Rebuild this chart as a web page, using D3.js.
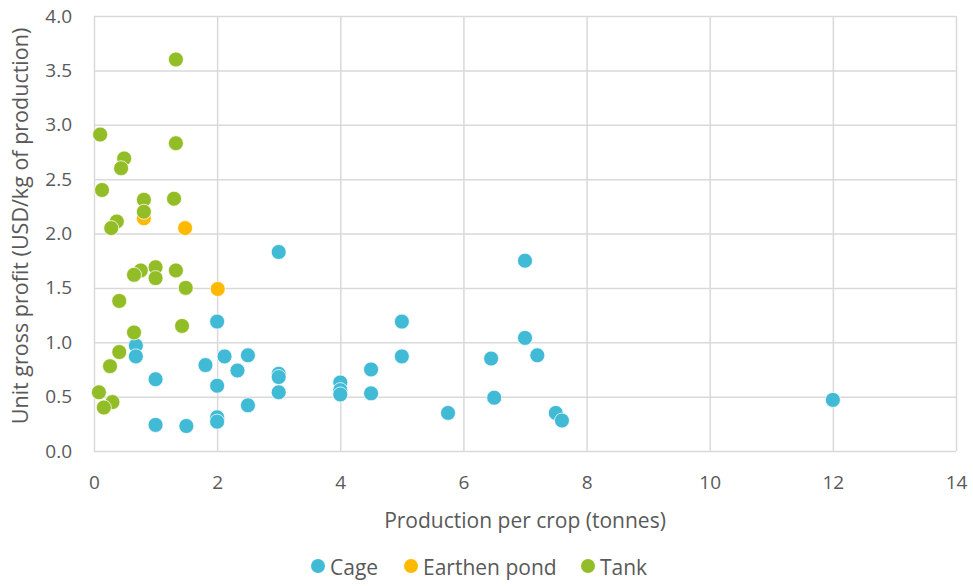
<!DOCTYPE html>
<html>
<head>
<meta charset="utf-8">
<script src="https://cdn.jsdelivr.net/npm/d3@7"></script>
<style>
  html, body { margin: 0; padding: 0; background: #fff; }
  svg text { font-family: "Open Sans", Lato, sans-serif; fill: #595959; }
</style>
</head>
<body>
<svg id="chart" width="973" height="586"></svg>
<script>
// Production per crop (tonnes) and unit gross profit (USD/kg) by system
const cageX = [0.68, 0.68, 1.0, 1.0, 1.5, 1.81, 2.0, 2.12, 2.33, 2.0, 2.0, 2.0, 2.5, 2.5, 3.0, 3.0, 3.0, 3.0, 4.0, 4.0, 4.0, 4.5, 4.5, 5.0, 5.0, 5.75, 6.45, 6.5, 7.0, 7.0, 7.2, 7.5, 7.6, 12.0];
const cageY = [0.97, 0.87, 0.66, 0.24, 0.23, 0.79, 1.19, 0.87, 0.74, 0.60, 0.31, 0.27, 0.88, 0.42, 1.83, 0.71, 0.68, 0.54, 0.63, 0.56, 0.52, 0.75, 0.53, 1.19, 0.87, 0.35, 0.85, 0.49, 1.75, 1.04, 0.88, 0.35, 0.28, 0.47];

const pondX = [0.81, 1.48, 2.01];
const pondY = [2.14, 2.05, 1.49];

const tankX = [1.33, 0.10, 1.33, 0.49, 0.44, 0.13, 1.30, 0.81, 0.81, 0.37, 0.28, 1.0, 0.76, 0.65, 1.33, 1.0, 1.49, 0.41, 1.43, 0.65, 0.41, 0.26, 0.08, 0.30, 0.16];
const tankY = [3.60, 2.91, 2.83, 2.69, 2.60, 2.40, 2.32, 2.31, 2.20, 2.11, 2.05, 1.69, 1.66, 1.62, 1.66, 1.59, 1.50, 1.38, 1.15, 1.09, 0.91, 0.78, 0.54, 0.45, 0.40];

const xTicks = [0, 2, 4, 6, 8, 10, 12, 14];
const yTicks = [0, 0.5, 1.0, 1.5, 2.0, 2.5, 3.0, 3.5, 4.0];

const seriesNames = ["Cage", "Earthen pond", "Tank"];
const seriesColors = ["#40BAD5", "#FFB900", "#92BD26"];

const series = [
  { name: seriesNames[0], color: seriesColors[0], pts: d3.zip(cageX, cageY) },
  { name: seriesNames[1], color: seriesColors[1], pts: d3.zip(pondX, pondY) },
  { name: seriesNames[2], color: seriesColors[2], pts: d3.zip(tankX, tankY) }
];

const svg = d3.select("#chart");
const plot = { left: 94, right: 956, top: 16, bottom: 451 };

const x = d3.scaleLinear().domain([0, 14]).range([plot.left, plot.right]);
const y = d3.scaleLinear().domain([0, 4]).range([plot.bottom, plot.top]);

const gridColor = "#d9d9d9";

// Vertical gridlines
svg.append("g")
  .attr("transform", `translate(0,${plot.bottom})`)
  .call(d3.axisBottom(x).tickValues(xTicks).tickSize(-(plot.bottom - plot.top)).tickFormat(""))
  .call(g => g.select(".domain").remove())
  .call(g => g.selectAll("line").attr("stroke", gridColor).attr("stroke-width", 1.5));

// Horizontal gridlines
svg.append("g")
  .attr("transform", `translate(${plot.left},0)`)
  .call(d3.axisLeft(y).tickValues(yTicks).tickSize(-(plot.right - plot.left)).tickFormat(""))
  .call(g => g.select(".domain").remove())
  .call(g => g.selectAll("line").attr("stroke", gridColor).attr("stroke-width", 1.5));

// X tick labels
svg.append("g")
  .attr("transform", `translate(0,${plot.bottom})`)
  .call(d3.axisBottom(x).tickValues(xTicks).tickSize(0).tickPadding(25).tickFormat(d3.format("d")))
  .call(g => g.select(".domain").remove())
  .call(g => g.selectAll("text").style("font-size", "19px").attr("fill", "#595959"));

// Y tick labels
svg.append("g")
  .attr("transform", `translate(${plot.left},0)`)
  .call(d3.axisLeft(y).tickValues(yTicks).tickSize(0).tickPadding(22).tickFormat(d3.format(".1f")))
  .call(g => g.select(".domain").remove())
  .call(g => g.selectAll("text").style("font-size", "19px").attr("fill", "#595959"));

// Axis titles
svg.append("text")
  .attr("x", (plot.left + plot.right) / 2)
  .attr("y", 528)
  .attr("text-anchor", "middle")
  .style("font-size", "21px")
  .text("Production per crop (tonnes)");

svg.append("text")
  .attr("transform", `translate(28,226) rotate(-90)`)
  .attr("text-anchor", "middle")
  .style("font-size", "21.5px")
  .text("Unit gross profit (USD/kg of production)");

// Markers
series.forEach(s => {
  svg.append("g")
    .selectAll("circle")
    .data(s.pts)
    .join("circle")
    .attr("cx", d => x(d[0]))
    .attr("cy", d => y(d[1]))
    .attr("r", 7.5)
    .attr("fill", s.color)
    .attr("stroke", "#ffffff")
    .attr("stroke-width", 0.75);
});

// Legend
const legendX = [318, 411, 588];
const legend = svg.append("g");
series.forEach((s, i) => {
  legend.append("circle")
    .attr("cx", legendX[i])
    .attr("cy", 566)
    .attr("r", 7)
    .attr("fill", s.color);
  legend.append("text")
    .attr("x", legendX[i] + 12)
    .attr("y", 575)
    .style("font-size", "21px")
    .text(s.name);
});
</script>
</body>
</html>
